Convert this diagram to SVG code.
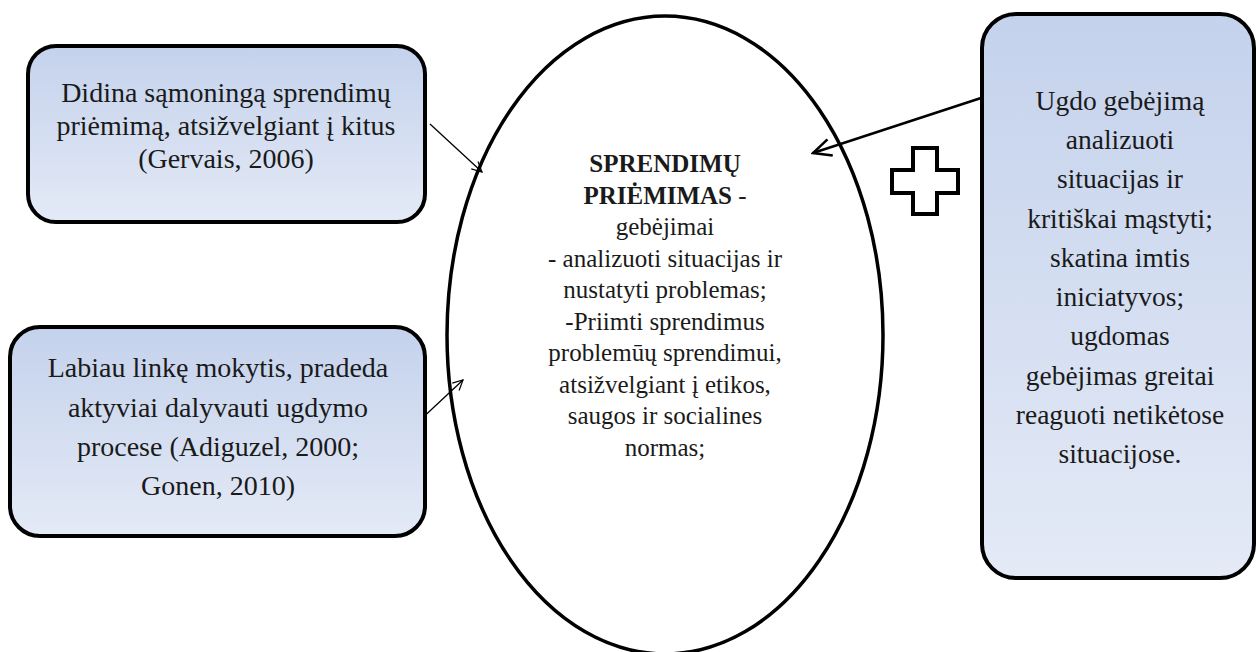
<svg xmlns="http://www.w3.org/2000/svg" width="1256" height="652" viewBox="0 0 1256 652">
<defs>
<linearGradient id="g" x1="0" y1="0" x2="0" y2="1">
<stop offset="0" stop-color="#c4d2ec"/>
<stop offset="1" stop-color="#e4eaf6"/>
</linearGradient>
<marker id="thin" viewBox="0 0 12 12" refX="11" refY="6" markerWidth="12" markerHeight="12" markerUnits="userSpaceOnUse" orient="auto">
<path d="M1,1 L11,6 L1,11" fill="none" stroke="#000" stroke-width="1.2"/>
</marker>
<marker id="bold" viewBox="0 0 24 24" refX="22" refY="12" markerWidth="24" markerHeight="24" markerUnits="userSpaceOnUse" orient="auto">
<path d="M4,3.5 L22,12 L4,20.5" fill="none" stroke="#000" stroke-width="2.5"/>
</marker>
</defs>
<style>
.box{fill:url(#g);stroke:#000;stroke-width:4}
.c{fill:none;stroke:#000}
.t{font-family:"Liberation Serif","Times New Roman",serif;fill:#1a1a1a;text-anchor:middle}
.s25{font-size:25px}
.s28{font-size:28px}
.s27{font-size:27.5px}
</style>
<rect width="1256" height="652" fill="#fff"/>
<g id="connectors">
<line class="c" x1="430" y1="124" x2="482" y2="172" stroke-width="1.3" marker-end="url(#thin)"/>
<line class="c" x1="417" y1="423" x2="463" y2="380" stroke-width="1.3" marker-end="url(#thin)"/>
<line class="c" x1="981" y1="98" x2="813" y2="153" stroke-width="2.5" marker-end="url(#bold)"/>
</g>
<g id="center">
<ellipse cx="665" cy="335" rx="218" ry="319" fill="none" stroke="#000" stroke-width="3.5"/>
<text class="t s25" x="665" y="172" font-weight="bold">SPRENDIMŲ</text>
<text class="t s25" x="665" y="204"><tspan font-weight="bold">PRIĖMIMAS</tspan> -</text>
<text class="t s25" x="665" y="235">gebėjimai</text>
<text class="t s25" x="665" y="267">- analizuoti situacijas ir</text>
<text class="t s25" x="665" y="298">nustatyti problemas;</text>
<text class="t s25" x="665" y="330">-Priimti sprendimus</text>
<text class="t s25" x="665" y="361">problemūų sprendimui,</text>
<text class="t s25" x="665" y="393">atsižvelgiant į etikos,</text>
<text class="t s25" x="665" y="424">saugos ir socialines</text>
<text class="t s25" x="665" y="456">normas;</text>
</g>
<g id="box1">
<rect class="box" x="28" y="46" width="397" height="176" rx="28"/>
<text class="t s28" x="226" y="102">Didina sąmoningą sprendimų</text>
<text class="t s28" x="226" y="135">priėmimą, atsižvelgiant į kitus</text>
<text class="t s28" x="226" y="168">(Gervais, 2006)</text>
</g>
<g id="box2">
<rect class="box" x="10" y="327" width="415" height="209" rx="30"/>
<text class="t s28" x="218" y="377">Labiau linkę mokytis, pradeda</text>
<text class="t s28" x="218" y="417">aktyviai dalyvauti ugdymo</text>
<text class="t s28" x="218" y="456">procese (Adiguzel, 2000;</text>
<text class="t s28" x="218" y="495">Gonen, 2010)</text>
</g>
<g id="plus">
<path d="M913,148 H937 V170 H958 V193 H937 V214 H913 V193 H892 V170 H913 Z" fill="#fff" stroke="#000" stroke-width="4"/>
</g>
<g id="box3">
<rect class="box" x="982" y="14" width="272" height="564" rx="34"/>
<text class="t s27" x="1120" y="110">Ugdo gebėjimą</text>
<text class="t s27" x="1120" y="149">analizuoti</text>
<text class="t s27" x="1120" y="188">situacijas ir</text>
<text class="t s27" x="1120" y="228">kritiškai mąstyti;</text>
<text class="t s27" x="1120" y="267">skatina imtis</text>
<text class="t s27" x="1120" y="306">iniciatyvos;</text>
<text class="t s27" x="1120" y="345">ugdomas</text>
<text class="t s27" x="1120" y="385">gebėjimas greitai</text>
<text class="t s27" x="1120" y="424">reaguoti netikėtose</text>
<text class="t s27" x="1120" y="463">situacijose.</text>
</g>
</svg>
